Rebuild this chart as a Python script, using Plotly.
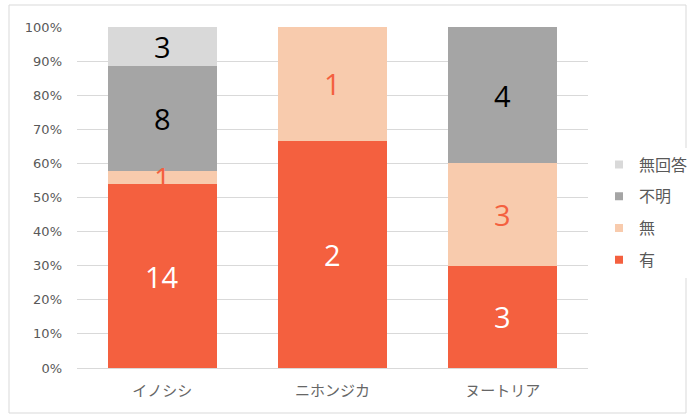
import plotly.graph_objects as go

# Survey responses per animal (counts)
categories = ["イノシシ", "ニホンジカ", "ヌートリア"]
series_names = ["有", "無", "不明", "無回答"]
yes_counts = [14, 2, 3]
no_counts = [1, 1, 3]
unknown_counts = [8, 0, 4]
noanswer_counts = [3, 0, 0]

colors = ["#F4603F", "#F8CBAD", "#A5A5A5", "#D9D9D9"]
label_colors = ["white", "#F4603F", "black", "black"]

series = [yes_counts, no_counts, unknown_counts, noanswer_counts]
totals = [sum(v) for v in zip(*series)]

W, H = 692, 420
L, R, T, B = 77, 104, 27, 52

fig = go.Figure()
for name, counts, col in zip(series_names, series, colors):
    shares = [c / t for c, t in zip(counts, totals)]
    fig.add_trace(go.Bar(
        x=categories, y=shares, name=name, marker_color=col,
        marker_line_width=0, width=0.64, showlegend=False,
        hoverinfo="skip",
    ))

# small square legend keys, top entry is the last stacked series
n = len(series_names)
for k, (name, col) in enumerate(zip(series_names, colors)):
    fig.add_trace(go.Scatter(
        x=[None], y=[None], mode="markers", name=name,
        marker=dict(symbol="square", size=8, color=col),
        legendrank=n - k, legendgroup=name,
    ))

# value labels at the middle of each segment
annotations = []
base = [0.0] * len(categories)
for counts, lcol in zip(series, label_colors):
    for i, (c, t) in enumerate(zip(counts, totals)):
        share = c / t
        if c > 0:
            annotations.append(dict(
                x=categories[i], y=base[i] + share / 2, text=str(c),
                showarrow=False, xref="x", yref="y",
                font=dict(size=29, color=lcol, family="Open Sans, Noto Sans, sans-serif"),
            ))
        base[i] += share

pw = W - L - R
ph = H - T - B
fig.add_shape(type="rect", xref="paper", yref="paper",
              x0=(9 - L) / pw, x1=(686 - L) / pw,
              y0=-(413 - T - ph) / ph, y1=1 + (T - 5) / ph,
              line=dict(color="#D9D9D9", width=1), fillcolor="rgba(0,0,0,0)",
              layer="below")

fig.update_layout(
    width=W, height=H,
    margin=dict(l=L, r=R, t=T, b=B, autoexpand=False),
    barmode="stack",
    plot_bgcolor="white", paper_bgcolor="white",
    font=dict(family="Noto Sans CJK JP, sans-serif", color="#595959", size=12),
    bargap=0.36,
    showlegend=True,
    legend=dict(
        x=(599 - L) / pw, y=0.456, xanchor="left", yanchor="middle",
        traceorder="grouped", tracegroupgap=8,
        font=dict(size=16, color="#595959"),
        itemwidth=30,
    ),
    annotations=annotations,
    xaxis=dict(
        showline=True, linecolor="#D9D9D9", linewidth=1,
        ticks="", tickfont=dict(size=15, color="#666666"),
        ticklabelstandoff=9,
        showgrid=False,
    ),
    yaxis=dict(
        range=[0, 1], dtick=0.1, tickformat=".0%",
        showgrid=True, gridcolor="#D9D9D9", gridwidth=1,
        zeroline=False, ticks="", ticklen=0,
        ticklabelstandoff=14,
        tickfont=dict(size=13, color="#595959", family="DejaVu Sans, sans-serif"),
    ),
)

fig.write_html("out.html")
